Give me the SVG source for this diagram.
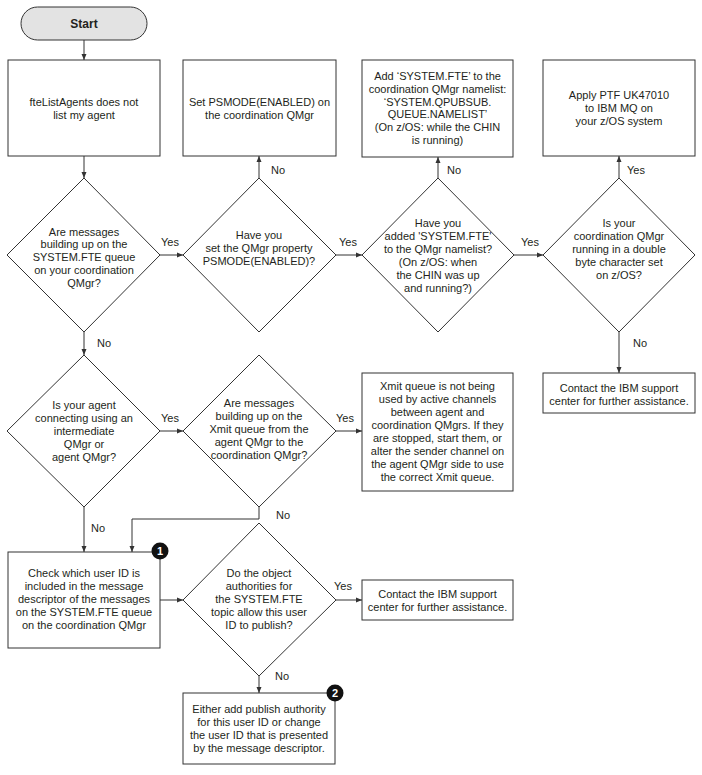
<svg xmlns="http://www.w3.org/2000/svg" width="702" height="775" viewBox="0 0 702 775">
<style>
text{font-family:"Liberation Sans",Arial,sans-serif;font-size:11px;fill:#231f20;text-anchor:middle}
.shape{fill:#fff;stroke:#333;stroke-width:1}
.start{fill:#e3e3e3;stroke:#333;stroke-width:1}
.bold{font-weight:bold;font-size:12px}
.conn{fill:none;stroke:#333;stroke-width:1;marker-end:url(#arr)}
.lbl{text-anchor:middle}
.badge{fill:#111}
.bnum{fill:#fff;font-weight:bold;font-size:11px}
</style>
<defs>
<marker id="arr" markerUnits="userSpaceOnUse" markerWidth="7" markerHeight="6" refX="6" refY="3" orient="auto">
<path d="M0,0.5 L6,3 L0,5.5 Z" fill="#333"/>
</marker>
</defs>
<rect width="702" height="775" fill="#fff"/>
<g id="connectors">
<path class="conn" d="M84,40 V60"/>
<path class="conn" d="M84,156 V178"/>
<path class="conn" d="M259,178 V156"/>
<path class="conn" d="M438,178 V157"/>
<path class="conn" d="M619,178 V156"/>
<path class="conn" d="M160,255 H183"/>
<path class="conn" d="M336,255 H362"/>
<path class="conn" d="M514,255 H543"/>
<path class="conn" d="M619,332 V373"/>
<path class="conn" d="M84,332 V355"/>
<path class="conn" d="M160,431 H183"/>
<path class="conn" d="M336,431 H362"/>
<path class="conn" d="M84,507 V552"/>
<path class="conn" d="M259,507 V519 H132 V552"/>
<path class="conn" d="M160,600 H183"/>
<path class="conn" d="M336,600 H362"/>
<path class="conn" d="M259,676 V693"/>
<text x="170" y="246">Yes</text>
<text x="348" y="246">Yes</text>
<text x="530" y="246">Yes</text>
<text x="278" y="174">No</text>
<text x="454" y="174">No</text>
<text x="636" y="174">Yes</text>
<text x="104" y="347">No</text>
<text x="640" y="347">No</text>
<text x="170" y="422">Yes</text>
<text x="345" y="422">Yes</text>
<text x="98" y="532">No</text>
<text x="283" y="519">No</text>
<text x="343" y="590">Yes</text>
<text x="282" y="680">No</text>
</g>
<g id="start">
<rect class="start" x="21" y="7" width="126" height="33" rx="16.5"/>
<text class="bold" x="84" y="28">Start</text>
</g>
<g id="box1">
<rect class="shape" x="8" y="60" width="152" height="96"/>
<text x="84" y="106">fteListAgents does not</text>
<text x="84" y="119">list my agent</text>
</g>
<g id="box2">
<rect class="shape" x="183" y="60" width="153" height="96"/>
<text x="259.5" y="106">Set PSMODE(ENABLED) on</text>
<text x="259.5" y="119">the coordination QMgr</text>
</g>
<g id="box3">
<rect class="shape" x="362" y="60" width="151" height="97"/>
<text x="437.5" y="80">Add ‘SYSTEM.FTE’ to the</text>
<text x="437.5" y="93">coordination QMgr namelist:</text>
<text x="437.5" y="106">‘SYSTEM.QPUBSUB.</text>
<text x="437.5" y="118">QUEUE.NAMELIST’</text>
<text x="437.5" y="131">(On z/OS: while the CHIN</text>
<text x="437.5" y="144">is running)</text>
</g>
<g id="box4">
<rect class="shape" x="543" y="60" width="152" height="96"/>
<text x="619" y="99">Apply PTF UK47010</text>
<text x="619" y="112">to IBM MQ on</text>
<text x="619" y="125">your z/OS system</text>
</g>
<g id="d1">
<polygon class="shape" points="84,178 160,255 84,332 7,255"/>
<text x="84" y="236">Are messages</text>
<text x="84" y="248">building up on the</text>
<text x="84" y="261">SYSTEM.FTE queue</text>
<text x="84" y="274">on your coordination</text>
<text x="84" y="287">QMgr?</text>
</g>
<g id="d2">
<polygon class="shape" points="259,178 336,255 259,332 183,255"/>
<text x="259" y="239">Have you</text>
<text x="259" y="252">set the QMgr property</text>
<text x="259" y="265">PSMODE(ENABLED)?</text>
</g>
<g id="d3">
<polygon class="shape" points="438,178 514,255 438,332 362,255"/>
<text x="438" y="227">Have you</text>
<text x="438" y="240">added 'SYSTEM.FTE'</text>
<text x="438" y="253">to the QMgr namelist?</text>
<text x="438" y="266">(On z/OS: when</text>
<text x="438" y="279">the CHIN was up</text>
<text x="438" y="292">and running?)</text>
</g>
<g id="d4">
<polygon class="shape" points="619,178 695,255 619,332 543,255"/>
<text x="619" y="227">Is your</text>
<text x="619" y="240">coordination QMgr</text>
<text x="619" y="253">running in a double</text>
<text x="619" y="266">byte character set</text>
<text x="619" y="279">on z/OS?</text>
</g>
<g id="contact1">
<rect class="shape" x="543" y="373" width="152" height="40"/>
<text x="619" y="392">Contact the IBM support</text>
<text x="619" y="405">center for further assistance.</text>
</g>
<g id="d5">
<polygon class="shape" points="84,355 160,431 84,507 7,431"/>
<text x="84" y="409">Is your agent</text>
<text x="84" y="422">connecting using an</text>
<text x="84" y="435">intermediate</text>
<text x="84" y="448">QMgr or</text>
<text x="84" y="461">agent QMgr?</text>
</g>
<g id="d6">
<polygon class="shape" points="259,355 336,431 259,507 183,431"/>
<text x="259" y="407">Are messages</text>
<text x="259" y="420">building up on the</text>
<text x="259" y="433">Xmit queue from the</text>
<text x="259" y="446">agent QMgr to the</text>
<text x="259" y="459">coordination QMgr?</text>
</g>
<g id="xmit">
<rect class="shape" x="362" y="373" width="151" height="118"/>
<text x="437.5" y="390">Xmit queue is not being</text>
<text x="437.5" y="403">used by active channels</text>
<text x="437.5" y="416">between agent and</text>
<text x="437.5" y="429">coordination QMgrs. If they</text>
<text x="437.5" y="442">are stopped, start them, or</text>
<text x="437.5" y="455">alter the sender channel on</text>
<text x="437.5" y="468">the agent QMgr side to use</text>
<text x="437.5" y="481">the correct Xmit queue.</text>
</g>
<g id="box7">
<rect class="shape" x="8" y="552" width="152" height="96"/>
<text x="84" y="577">Check which user ID is</text>
<text x="84" y="590">included in the message</text>
<text x="84" y="603">descriptor of the messages</text>
<text x="84" y="616">on the SYSTEM.FTE queue</text>
<text x="84" y="629">on the coordination QMgr</text>
<circle class="badge" cx="160" cy="551" r="8.5"/>
<text class="bnum" x="160" y="555">1</text>
</g>
<g id="d8">
<polygon class="shape" points="259,523 336,600 259,676 183,600"/>
<text x="259" y="577">Do the object</text>
<text x="259" y="590">authorities for</text>
<text x="259" y="603">the SYSTEM.FTE</text>
<text x="259" y="616">topic allow this user</text>
<text x="259" y="629">ID to publish?</text>
</g>
<g id="contact2">
<rect class="shape" x="362" y="580" width="151" height="40"/>
<text x="437.5" y="598">Contact the IBM support</text>
<text x="437.5" y="611">center for further assistance.</text>
</g>
<g id="box10">
<rect class="shape" x="183" y="693" width="152" height="71"/>
<text x="259" y="713">Either add publish authority</text>
<text x="259" y="726">for this user ID or change</text>
<text x="259" y="739">the user ID that is presented</text>
<text x="259" y="752">by the message descriptor.</text>
<circle class="badge" cx="335" cy="693" r="8.5"/>
<text class="bnum" x="335" y="697">2</text>
</g>
</svg>
